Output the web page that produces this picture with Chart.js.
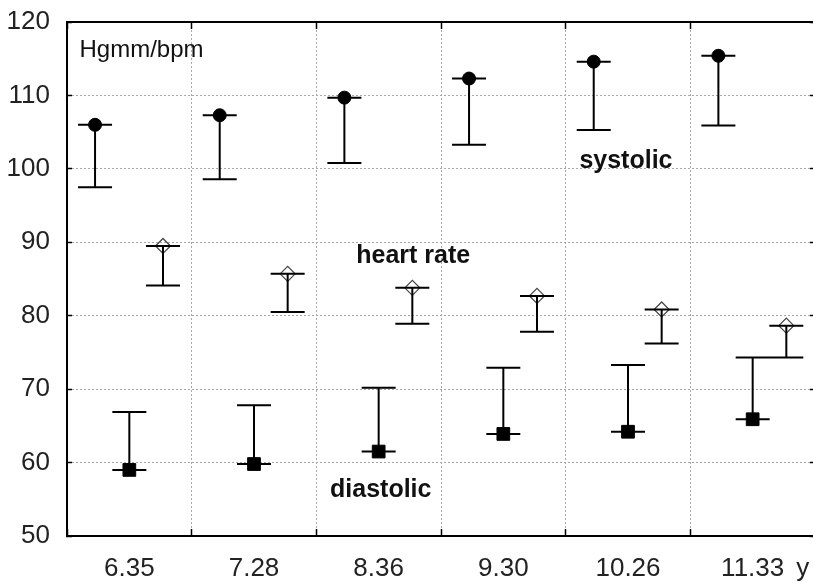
<!DOCTYPE html>
<html>
<head>
<meta charset="utf-8">
<script src="https://cdn.jsdelivr.net/npm/chart.js@4.4.1/dist/chart.umd.min.js"></script>
<style>
  html, body { margin: 0; padding: 0; background: #fff; overflow: hidden; }
  #wrap { width: 825px; height: 585px; }
</style>
</head>
<body>
<div id="wrap"><canvas id="bp" width="825" height="585"></canvas></div>
<script>
// age groups (years)
const ages = ['6.35', '7.28', '8.36', '9.30', '10.26', '11.33'];

// means and one-sided error bar ends
const systolic = [106.0, 107.3, 109.7, 112.3, 114.6, 115.4];
const systolicLow = [97.5, 98.6, 100.8, 103.3, 105.3, 105.9];
const heartRate = [89.5, 85.7, 83.8, 82.7, 80.85, 78.65];
const heartRateLow = [84.1, 80.5, 78.9, 77.8, 76.2, 74.3];
const diastolic = [59.0, 59.8, 61.5, 63.9, 64.2, 65.9];
const diastolicHigh = [66.9, 67.8, 70.2, 72.9, 73.3, 74.3];

const yTicks = [50, 60, 70, 80, 90, 100, 110, 120];

Chart.defaults.font.family = "'Liberation Sans', Arial, sans-serif";
Chart.defaults.color = '#222';

// each group sits in its own column: systolic left, diastolic centre, heart rate right
const toPoints = (vals, shift) => vals.map((v, i) => ({ x: i + shift, y: v }));

const isHalf = v => Math.abs((v % 1) - 0.5) < 1e-6;
const isWhole = v => Math.abs(v - Math.round(v)) < 1e-6;

// no extra room for overhanging labels, the frame is fixed
const fixPad = s => { s.paddingTop = 0; s.paddingBottom = 0; s.paddingLeft = 0; s.paddingRight = 0; };

// T-shaped bars: a cap at the mean and another at the far end
const errorBars = {
    id: 'errorBars',
    afterDatasetsDraw(chart) {
        const { ctx, scales: { x, y } } = chart;
        ctx.save();
        ctx.strokeStyle = '#000';
        ctx.lineWidth = 2;
        chart.data.datasets.forEach(ds => {
            ds.data.forEach((p, i) => {
                const px = x.getPixelForValue(p.x);
                const y0 = y.getPixelForValue(p.y);
                const y1 = y.getPixelForValue(ds.barEnd[i]);
                ctx.beginPath();
                ctx.moveTo(px, y0); ctx.lineTo(px, y1);
                ctx.moveTo(px - 17, y0); ctx.lineTo(px + 17, y0);
                ctx.moveTo(px - 17, y1); ctx.lineTo(px + 17, y1);
                ctx.stroke();
            });
        });
        ctx.restore();
    }
};

// text notes placed in data coordinates
const notes = [
    { text: 'Hgmm/bpm', x: 0.1, y: 115.2, font: '24px "Liberation Sans", Arial' },
    { text: 'systolic', x: 4.11, y: 100.1, font: 'bold 25px "Liberation Sans", Arial' },
    { text: 'heart rate', x: 2.32, y: 87.2, font: 'bold 25px "Liberation Sans", Arial' },
    { text: 'diastolic', x: 2.11, y: 55.3, font: 'bold 25px "Liberation Sans", Arial' }
];

const labelsPlugin = {
    id: 'notes',
    afterDraw(chart) {
        const { ctx, scales: { x, y } } = chart;
        ctx.save();
        ctx.fillStyle = '#111';
        ctx.textAlign = 'left';
        ctx.textBaseline = 'alphabetic';
        notes.forEach(n => {
            ctx.font = n.font;
            ctx.fillText(n.text, x.getPixelForValue(n.x), y.getPixelForValue(n.y));
        });
        // unit of the x axis
        ctx.font = '26px "Liberation Sans", Arial';
        ctx.fillStyle = '#222';
        ctx.fillText('y', x.getPixelForValue(5.85), 576);
        ctx.restore();
    }
};

new Chart(document.getElementById('bp'), {
    type: 'scatter',
    data: {
        datasets: [
            {
                label: 'systolic',
                data: toPoints(systolic, 0.225),
                barEnd: systolicLow,
                pointStyle: 'circle',
                pointRadius: 6.5,
                backgroundColor: '#000',
                borderColor: '#000'
            },
            {
                label: 'diastolic',
                data: toPoints(diastolic, 0.5),
                barEnd: diastolicHigh,
                pointStyle: 'rect',
                pointRadius: 9,
                backgroundColor: '#000',
                borderColor: '#000'
            },
            {
                label: 'heart rate',
                data: toPoints(heartRate, 0.77),
                barEnd: heartRateLow,
                pointStyle: 'rectRot',
                pointRadius: 7.5,
                backgroundColor: 'rgba(255,255,255,0)',
                borderColor: '#444',
                borderWidth: 1.2
            }
        ]
    },
    options: {
        responsive: false,
        animation: false,
        layout: { padding: { top: 22, right: 0, left: 0, bottom: 0 } },
        plugins: {
            legend: { display: false },
            tooltip: { enabled: false }
        },
        scales: {
            x: {
                type: 'linear',
                position: 'bottom',
                min: 0,
                max: 6,
                afterFit: s => { s.height = 49; fixPad(s); },
                ticks: {
                    stepSize: 0.5,
                    autoSkip: false,
                    maxRotation: 0,
                    padding: 24,
                    font: { size: 26 },
                    color: '#222',
                    callback: v => isHalf(v) ? ages[Math.floor(v)] : ''
                },
                grid: {
                    color: c => isWhole(c.tick.value) ? '#a8a8a8' : 'rgba(0,0,0,0)',
                    tickColor: c => isWhole(c.tick.value) ? '#000' : 'rgba(0,0,0,0)',
                    tickLength: -7,
                    tickWidth: 1.5,
                    lineWidth: 1
                },
                border: { color: '#000', width: 2, dash: [2, 2] }
            },
            xTop: {
                type: 'linear',
                position: 'top',
                min: 0,
                max: 6,
                afterFit: s => { s.height = 0; fixPad(s); },
                ticks: { display: false, stepSize: 1 },
                grid: { drawOnChartArea: false, tickLength: -7, tickColor: '#000', tickWidth: 1.5 },
                border: { color: '#000', width: 2 }
            },
            y: {
                min: 50,
                max: 120,
                afterFit: s => { s.width = 67; fixPad(s); },
                afterBuildTicks: s => { s.ticks = yTicks.map(v => ({ value: v })); },
                ticks: {
                    padding: 22,
                    font: { size: 26 },
                    color: '#222'
                },
                grid: {
                    color: '#a8a8a8',
                    tickColor: '#000',
                    tickLength: -5,
                    tickWidth: 1.5,
                    lineWidth: 1
                },
                border: { color: '#000', width: 2, dash: [2, 2] }
            },
            yRight: {
                position: 'right',
                min: 50,
                max: 120,
                afterFit: s => { s.width = 4; fixPad(s); },
                afterBuildTicks: s => { s.ticks = yTicks.map(v => ({ value: v })); },
                ticks: { display: false },
                grid: { drawOnChartArea: false, tickLength: -5, tickColor: '#000', tickWidth: 1.5 },
                border: { display: false }
            }
        }
    },
    plugins: [errorBars, labelsPlugin]
});
</script>
</body>
</html>
